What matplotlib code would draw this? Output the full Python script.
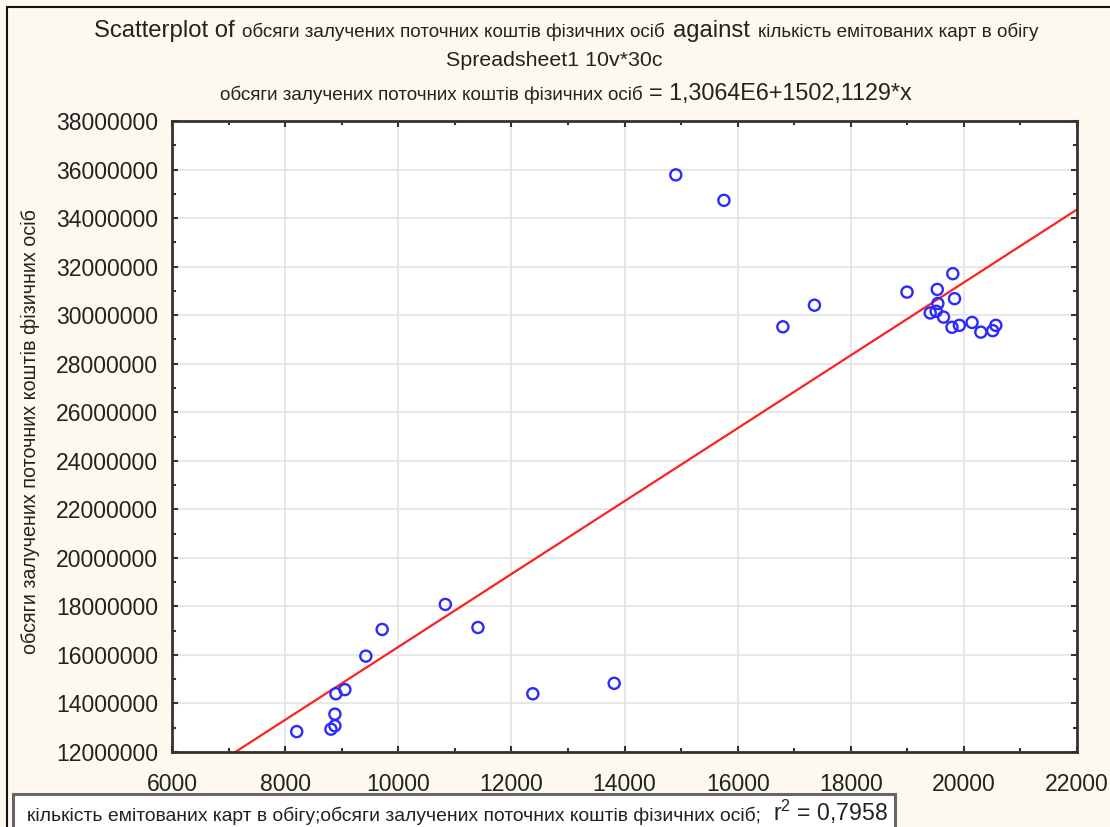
import matplotlib
matplotlib.use('Agg')
import matplotlib.pyplot as plt
from matplotlib.patches import Rectangle
from matplotlib.ticker import MultipleLocator, AutoMinorLocator
import numpy as np

plt.rcParams['font.family'] = ['Liberation Sans', 'DejaVu Sans']
plt.rcParams['mathtext.fontset'] = 'custom'
plt.rcParams['mathtext.rm'] = 'Liberation Sans'

x_name = 'кількість емітованих карт в обігу'
y_name = 'обсяги залучених поточних коштів фізичних осіб'

# кількість карт (x) / обсяги коштів (y)
cards = [14907, 15758, 16800, 17358,
         18995, 19530, 19804, 19835, 19540, 19405, 19510, 19640,
         19790, 19920, 20145, 20300, 20510, 20565,
         10832, 9716, 11409, 9427, 9056, 8898, 8880, 8880, 8810, 8205,
         12379, 13818]
funds = [35.78e6, 34.73e6, 29.52e6, 30.41e6,
         30.95e6, 31.06e6, 31.71e6, 30.68e6, 30.48e6, 30.09e6, 30.16e6, 29.92e6,
         29.50e6, 29.58e6, 29.70e6, 29.30e6, 29.36e6, 29.58e6,
         18.08e6, 17.05e6, 17.13e6, 15.95e6, 14.57e6, 14.40e6, 13.56e6, 13.08e6, 12.94e6, 12.84e6,
         14.40e6, 14.83e6]

intercept = 1.3064e6
slope = 1502.1129
r2_text = '0,7958'
eq_text = '= 1,3064E6+1502,1129*x'

W, H = 1110, 827
BIG, SMALL = 16.8, 13.6

fig = plt.figure(figsize=(W / 100, H / 100), dpi=100)
fig.patch.set_facecolor('#fdf9ef')

ax = fig.add_axes([172 / W, 1 - 752 / H, (1077 - 172) / W, (752 - 121) / H])
ax.set_facecolor('white')

ax.scatter(cards, funds, s=64, facecolors='none', edgecolors='#2b2bff',
           linewidths=1.7, zorder=3)
xl = np.array([6000, 22000])
ax.plot(xl, intercept + slope * xl, color='#ff2020', lw=1.6, zorder=2)

ax.set_xlim(6000, 22000)
ax.set_ylim(12e6, 38e6)
ax.xaxis.set_major_locator(MultipleLocator(2000))
ax.yaxis.set_major_locator(MultipleLocator(2e6))
ax.xaxis.set_minor_locator(AutoMinorLocator(2))
ax.yaxis.set_minor_locator(AutoMinorLocator(2))
ax.yaxis.set_major_formatter(lambda v, p: '%d' % v)
ax.grid(True, which='major', color='#e4e4e4', lw=1.2)
ax.set_axisbelow(True)
ax.tick_params(which='both', direction='in', top=True, right=True,
               color='#333333', width=1.5)
ax.tick_params(which='major', length=4, labelsize=16.6, labelcolor='#222222')
ax.tick_params(which='minor', length=3)
ax.tick_params(axis='y', pad=10)
ax.tick_params(axis='x', pad=15)
for sp in ax.spines.values():
    sp.set_linewidth(2)
    sp.set_color('#333333')

fig.text(30 / W, 1 - 432 / H, y_name, rotation=90, ha='center', va='center',
         fontsize=14.2, color='#222222')

renderer = fig.canvas.get_renderer()


def place_line(parts, xc, base, gap=6):
    # parts of one text line, centered at xc (px), baseline at base (px from top)
    texts = [fig.text(0, 1 - base / H, s, fontsize=fs, va='baseline',
                      ha='left', color='#222222') for s, fs in parts]
    widths = [t.get_window_extent(renderer).width for t in texts]
    x0 = xc - (sum(widths) + gap * (len(texts) - 1)) / 2
    for t, w in zip(texts, widths):
        t.set_x(x0 / W)
        x0 += w + gap
    return texts


place_line([('Scatterplot of', 17.2), (y_name, SMALL), ('against', 17.2),
            (x_name, SMALL)], 566, 37, gap=8)
place_line([('Spreadsheet1 10v*30c', 15.4)], 554, 66)
place_line([(y_name, SMALL), (eq_text, BIG)], 566, 100)

# outer frame and r2 box at the bottom
fig.patches.append(Rectangle((7 / W, -0.1), 1.2, 1 - 7 / H + 0.1, fill=False,
                             edgecolor='#111111', lw=1.5,
                             transform=fig.transFigure, figure=fig))
fig.patches.append(Rectangle((13 / W, -0.1), (895 - 13) / W, 0.1 + 1 - 794 / H,
                             facecolor='white', edgecolor='#666666', lw=2.2,
                             transform=fig.transFigure, figure=fig))
t = fig.text(27 / W, 1 - 821 / H, x_name + ';' + y_name + ';', fontsize=13.9,
             va='baseline', color='#222222')
w = t.get_window_extent(renderer).width
fig.text((27 + w + 12) / W, 1 - 821 / H, r'$\mathregular{r^2}$ = ' + r2_text,
         fontsize=16.6, va='baseline', color='#222222')

fig.savefig('out.png', dpi=100, facecolor=fig.get_facecolor())
